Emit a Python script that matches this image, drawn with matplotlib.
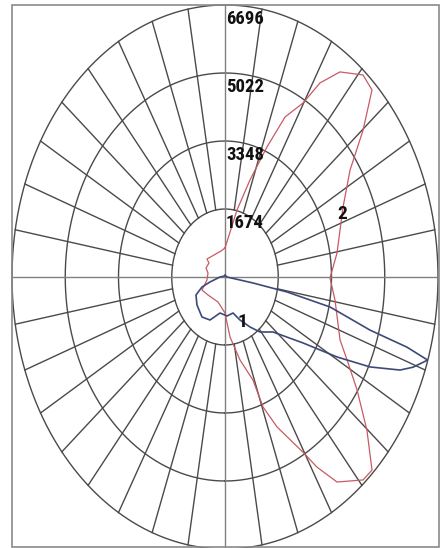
import numpy as np
import matplotlib.pyplot as plt
from matplotlib.patches import Rectangle
from matplotlib.transforms import offset_copy
from matplotlib import font_manager

# ring values (cd)
rings = [1674, 3348, 5022, 6696]
ring_labels = ['1674', '3348', '5022', '6696']

# curve 1: angle from nadir (deg, + toward right) and intensity
ang1 = [180, 120, 90, 80.5, 79.3, 77.4, 74.0, 73.2, 72.2, 69.4, 67.4, 64.1, 60.8, 56.5,
        48.1, 39.1, 32.6, 24.0, 15.9, 3.8, -10.0, -24.0, -36.3, -52.0, -64.1, -71.2,
        -75.4, -90, -120, -180]
i1 = [40, 40, 60, 892, 1984, 3383, 4742, 5976, 6690, 6313, 5960, 5069, 4035, 2942,
      2027, 1745, 1461, 1159, 921, 962, 900, 1159, 1222, 1118, 1014, 764,
      488, 157, 40, 40]

# curve 2
ang2 = [180, 167.1, 161.8, 157.6, 154.4, 150.2, 148.0, 144.4, 138.9, 134.9, 129.8, 123.8,
        114.9, 99.5, 89.6, 80.7, 66.8, 62.0, 56.2, 49.8, 44.2, 41.0, 34.9, 31.7, 29.6,
        23.9, 20.5, 19.1, 13.0, 6.1, 0, -19.6, -50.3, -66.1, -82.6, -100.4, -110.4,
        -124.4, -128.0, -168.9, -180]
i2 = [714, 1692, 2514, 3462, 4367, 4936, 5633, 6209, 6600, 6524, 5650, 4731,
      4091, 3570, 3301, 3504, 3935, 4346, 4996, 5841, 6629, 6619, 6154, 5500, 4958,
      4039, 3417, 2684, 2097, 1485, 886, 654, 694, 791, 571, 543, 637,
      610, 719, 652, 714]

# narrowest installed family for the numbers
names = {f.name for f in font_manager.fontManager.ttflist}
narrow = [n for n in ['Liberation Sans Narrow', 'DejaVu Sans Condensed', 'Roboto Condensed']
          if n in names]
fam = narrow + ['DejaVu Sans']

fig = plt.figure(figsize=(4.43, 5.48), dpi=100)
ax = fig.add_axes([12 / 443, -1 / 548, 426 / 443, 544 / 548], projection='polar')
ax.set_aspect('auto')
ax.set_theta_zero_location('S')
ax.set_theta_direction(1)
ax.set_ylim(0, 6696)
ax.grid(False)
ax.set_xticks([])
ax.set_yticks([])
ax.spines['polar'].set_visible(False)

th = np.linspace(0, 2 * np.pi, 721)
for r in rings:
    ax.plot(th, np.full_like(th, r), color='#4a4a4a', lw=1.0, clip_on=False)

for d in range(0, 360, 10):
    t = np.deg2rad(d)
    if d % 90 == 0:
        ax.plot([t, t], [0, 6696], color='#808080', lw=1.0, clip_on=False)
    else:
        ax.plot([t, t], [1674, 6696], color='#4a4a4a', lw=1.0, clip_on=False)

ax.plot(np.deg2rad(ang2), i2, color='#c85a64', lw=0.9)
ax.plot(np.deg2rad(ang1), i1, color='#3c4a78', lw=1.2)

lab_tr = offset_copy(ax.transData, fig=fig, x=1, y=-5, units='dots')
for r, s in zip(rings, ring_labels):
    ax.text(np.pi, r, s, transform=lab_tr, ha='left', va='top',
            family=fam, fontweight='bold', fontstretch='condensed',
            fontsize=13.5, color='#111111')

ax.text(np.deg2rad(25.8), 1230, '1', ha='center', va='center',
        family=fam, fontweight='bold', fontsize=14, color='#111111')
ax.text(np.deg2rad(112.9), 3992, '2', ha='center', va='center',
        family=fam, fontweight='bold', fontsize=14, color='#111111')

fig.patches.append(Rectangle((12 / 443, 1 / 548), 427 / 443, 542 / 548,
                             transform=fig.transFigure, fill=False,
                             edgecolor='#8a8a8a', lw=1.2))

fig.savefig('out.png', dpi=100)
